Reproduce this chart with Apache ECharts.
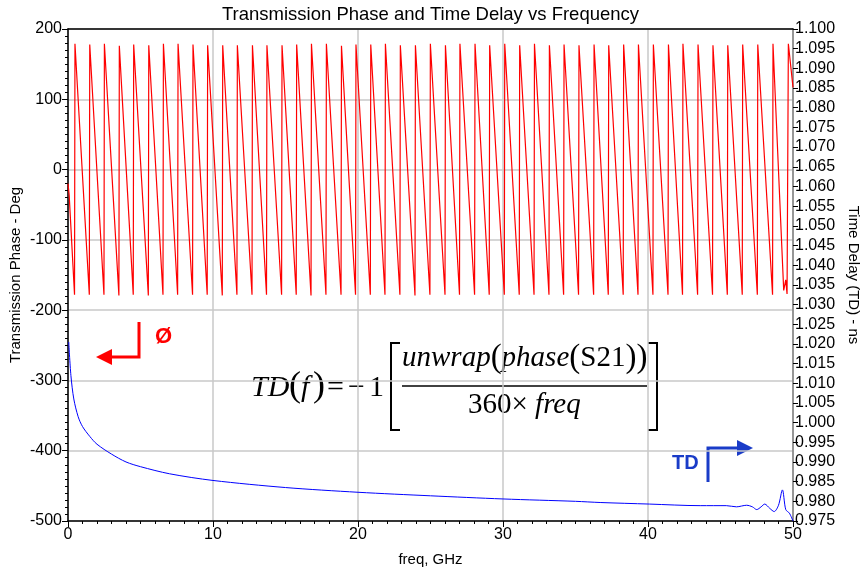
<!DOCTYPE html>
<html>
<head>
<meta charset="utf-8">
<script src="https://cdn.jsdelivr.net/npm/echarts@6/dist/echarts.min.js"></script>
<style>
  html, body { margin: 0; padding: 0; background: #fff; }
  #chart { width: 861px; height: 570px; }
</style>
</head>
<body>
<div id="chart"></div>
<script>
// phase sawtooth: start, jump-up points (top) and the bottoms just before them
var phaseStart = [[0.00, -20], [0.08, -36]];
var peakFreq = [0.48, 1.50, 2.51, 3.54, 4.53, 5.57, 6.58, 7.59, 8.62, 9.63,
  10.67, 11.68, 12.72, 13.72, 14.76, 15.77, 16.79, 17.82, 18.86, 19.86,
  20.88, 21.89, 22.92, 23.96, 24.99, 26.03, 27.03, 28.07, 29.08, 30.12,
  31.15, 32.17, 33.20, 34.21, 35.24, 36.28, 37.29, 38.32, 39.34, 40.37,
  41.41, 42.41, 43.45, 44.48, 45.50, 46.53, 47.57, 48.62, 49.68];
var peakDeg = [179, 178, 179, 176, 178, 177, 179, 179, 178, 177,
  177, 177, 177, 177, 177, 178, 179, 179, 176, 178,
  178, 179, 177, 177, 179, 177, 179, 179, 177, 179,
  177, 179, 177, 178, 177, 178, 177, 178, 178, 178,
  178, 179, 178, 177, 177, 178, 178, 179, 179];
var troughFreq = [0.45, 1.47, 2.48, 3.51, 4.50, 5.54, 6.55, 7.56, 8.59, 9.60,
  10.64, 11.65, 12.69, 13.69, 14.73, 15.74, 16.76, 17.79, 18.83, 19.83,
  20.85, 21.86, 22.89, 23.93, 24.96, 26.00, 27.00, 28.04, 29.05, 30.09,
  31.12, 32.14, 33.17, 34.18, 35.21, 36.25, 37.26, 38.29, 39.31, 40.34,
  41.38, 42.38, 43.42, 44.45, 45.47, 46.50, 47.54, 48.59, 49.65];
var troughDeg = [-178, -178, -178, -179, -178, -179, -178, -178, -178, -178,
  -179, -178, -178, -178, -178, -178, -179, -178, -178, -178,
  -178, -178, -178, -179, -178, -178, -178, -178, -178, -178,
  -178, -178, -178, -178, -178, -178, -178, -178, -178, -178,
  -178, -178, -178, -178, -178, -178, -178, -178, -177];
var phaseTailWiggle = [[49.36, -172], [49.50, -157], [49.59, -177]];
var phaseEnd = [[50.00, 117]];

// time delay, ns
var tdFreq = [0.05, 0.2, 0.4, 0.7, 1.0, 1.5, 2.0, 3.0, 4.0, 5.0, 7.0, 10.0, 15.0, 20.0, 25.0, 30.0,
  35.0, 36.7, 40.1, 43.6, 45.4, 46.1, 46.8, 47.2, 47.5, 47.8, 48.05, 48.4, 48.7, 49.0, 49.27, 49.5, 49.75, 50.0];
var tdNs = [1.0205, 1.012, 1.006, 1.0015, 0.999, 0.9965, 0.9945, 0.992, 0.990, 0.9888, 0.9870, 0.9853, 0.9835, 0.9823, 0.9814, 0.9806,
  0.9800, 0.9797, 0.9793, 0.9789, 0.9789, 0.9786, 0.9790, 0.9786, 0.9779, 0.9786, 0.9793, 0.9782, 0.9774, 0.9790, 0.9829, 0.9779, 0.9770, 0.9750];

var phaseData = phaseStart.slice();
for (var i = 0; i < peakFreq.length; i++) {
  if (i === peakFreq.length - 1) {
    phaseTailWiggle.forEach(function (p) { phaseData.push(p); });
  } else {
    phaseData.push([troughFreq[i], troughDeg[i]]);
  }
  phaseData.push([peakFreq[i], peakDeg[i]]);
}
phaseEnd.forEach(function (p) { phaseData.push(p); });

var tdData = tdFreq.map(function (f, i) { return [f, tdNs[i]]; });

var chart = echarts.init(document.getElementById('chart'));
var font = 'Liberation Sans, Arial, sans-serif';
var serif = 'Liberation Serif, Times New Roman, serif';

function mathText(x, y, txt, italic) {
  return {
    type: 'text', left: x, top: y,
    style: { text: txt, fontFamily: serif, fontSize: 30, fontStyle: italic ? 'italic' : 'normal', fill: '#000' }
  };
}

var option = {
  animation: false,
  title: {
    text: 'Transmission Phase and Time Delay vs Frequency',
    left: 'center',
    top: 0,
    textStyle: { fontFamily: font, fontSize: 18.5, fontWeight: 'normal', color: '#000' }
  },
  grid: { left: 68, right: 68, top: 29, bottom: 49, outerBoundsMode: 'none' },
  xAxis: [{
    type: 'value',
    min: 0, max: 50, interval: 10,
    name: 'freq, GHz',
    nameLocation: 'middle',
    nameGap: 31,
    nameTextStyle: { fontFamily: font, fontSize: 15, color: '#000' },
    axisLine: { onZero: false, lineStyle: { color: '#000', width: 1.5 } },
    axisTick: { length: 6, lineStyle: { color: '#000' } },
    minorTick: { show: true, splitNumber: 10, length: 3, lineStyle: { color: '#000' } },
    axisLabel: { fontFamily: font, fontSize: 16, color: '#000', margin: 6 },
    splitLine: { show: true, lineStyle: { color: '#c8c8c8', width: 1.5 } }
  }, {
    type: 'value',
    position: 'top',
    min: 0, max: 50,
    axisLine: { show: true, onZero: false, lineStyle: { color: '#000', width: 1.5 } },
    axisTick: { show: false },
    axisLabel: { show: false },
    splitLine: { show: false }
  }],
  yAxis: [{
    type: 'value',
    min: -500, max: 200, interval: 100,
    name: 'Transmission Phase - Deg',
    nameLocation: 'middle',
    nameRotate: 90,
    nameGap: 45,
    nameMoveOverlap: false,
    nameTextStyle: { fontFamily: font, fontSize: 15, color: '#000' },
    axisLine: { show: true, onZero: false, lineStyle: { color: '#000', width: 1.5 } },
    axisTick: { length: 6, lineStyle: { color: '#000' } },
    minorTick: { show: true, splitNumber: 10, length: 3, lineStyle: { color: '#000' } },
    axisLabel: { fontFamily: font, fontSize: 16, color: '#000', margin: 6 },
    splitLine: { show: true, lineStyle: { color: '#c8c8c8', width: 1.5 } }
  }, {
    type: 'value',
    position: 'right',
    min: 0.975, max: 1.100, interval: 0.005,
    name: 'Time Delay (TD) - ns',
    nameLocation: 'middle',
    nameRotate: -90,
    nameGap: 51,
    nameTextStyle: { fontFamily: font, fontSize: 15, color: '#000' },
    axisLine: { show: true, onZero: false, lineStyle: { color: '#808080', width: 1.5 } },
    axisTick: { length: 5, lineStyle: { color: '#000' } },
    axisLabel: {
      fontFamily: font, fontSize: 16, color: '#000', margin: 2,
      formatter: function (v) { return v.toFixed(3); }
    },
    splitLine: { show: false }
  }],
  series: [{
    name: 'Phase',
    type: 'line',
    xAxisIndex: 0,
    yAxisIndex: 0,
    data: phaseData,
    showSymbol: false,
    lineStyle: { color: '#ff0000', width: 1.2 },
    z: 3
  }, {
    name: 'TD',
    type: 'line',
    xAxisIndex: 0,
    yAxisIndex: 1,
    data: tdData,
    smooth: 0.3,
    showSymbol: false,
    lineStyle: { color: '#0000ff', width: 1 },
    z: 3
  }],
  graphic: [
    // phase marker
    { type: 'polyline', shape: { points: [[139, 322], [139, 357], [110, 357]] },
      style: { stroke: '#ff0000', lineWidth: 3, fill: null } },
    { type: 'polygon', shape: { points: [[96, 357], [112, 349], [112, 365]] },
      style: { fill: '#ff0000' } },
    { type: 'text', left: 155, top: 326,
      style: { text: 'Ø', fontFamily: font, fontSize: 22, fontWeight: 'bold', fill: '#ff0000' } },
    // TD marker
    { type: 'text', left: 672, top: 453,
      style: { text: 'TD', fontFamily: font, fontSize: 20, fontWeight: 'bold', fill: '#1a3cc8' } },
    { type: 'polyline', shape: { points: [[708, 482], [708, 448], [738, 448]] },
      style: { stroke: '#1a3cc8', lineWidth: 3, fill: null } },
    { type: 'polygon', shape: { points: [[753, 448], [737, 440], [737, 456]] },
      style: { fill: '#1a3cc8' } },
    // formula  TD(f) = -1 [ ... ]
    mathText(251, 373, 'TD', true),
    { type: 'text', left: 289, top: 369,
      style: { text: '(', fontFamily: serif, fontSize: 36, fill: '#000' } },
    mathText(301, 373, 'f', true),
    { type: 'text', left: 313, top: 369,
      style: { text: ')', fontFamily: serif, fontSize: 36, fill: '#000' } },
    mathText(327, 373, '=', false),
    mathText(348, 373, '−', false),
    mathText(369, 373, '1', false),
    { type: 'text', left: 402, top: 342,
      style: {
        text: '{i|unwrap}{p|(}{i|phase}{p|(}{n|S21}{p|))}',
        rich: {
          i: { fontFamily: serif, fontStyle: 'italic', fontSize: 29, fill: '#000' },
          p: { fontFamily: serif, fontSize: 33, fill: '#000' },
          n: { fontFamily: serif, fontSize: 29, fill: '#000' }
        }
      } },
    { type: 'line', shape: { x1: 402, y1: 386, x2: 647, y2: 386 },
      style: { stroke: '#000', lineWidth: 1.5 } },
    { type: 'text', left: 468, top: 391,
      style: {
        text: '{n|360×}{i| freq}',
        rich: {
          i: { fontFamily: serif, fontStyle: 'italic', fontSize: 29, fill: '#000' },
          n: { fontFamily: serif, fontSize: 29, fill: '#000' }
        }
      } },
    { type: 'polyline', shape: { points: [[400, 343], [391, 343], [391, 430], [400, 430]] },
      style: { stroke: '#000', lineWidth: 2, fill: null } },
    { type: 'polyline', shape: { points: [[648, 343], [657, 343], [657, 430], [648, 430]] },
      style: { stroke: '#000', lineWidth: 2, fill: null } }
  ]
};
chart.setOption(option);
</script>
</body>
</html>
